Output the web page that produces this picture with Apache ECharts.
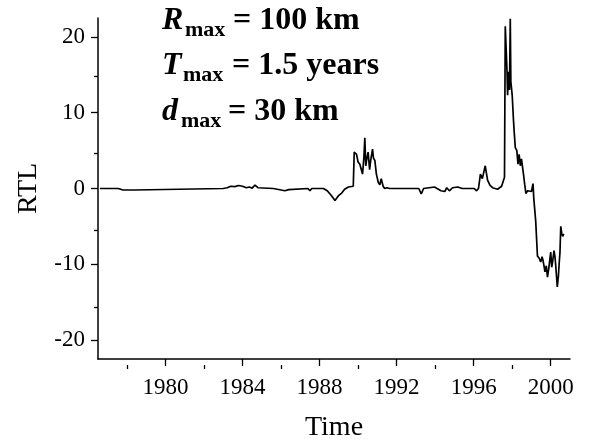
<!DOCTYPE html>
<html>
<head>
<meta charset="utf-8">
<script src="https://cdn.jsdelivr.net/npm/echarts@6/dist/echarts.min.js"></script>
<style>
  html, body { margin: 0; padding: 0; background: #fff; }
  #main { width: 590px; height: 447px; }
</style>
</head>
<body>
<div id="main"></div>
<script>
// time in decimal years, RTL value
const times = [
  1976.6, 1977.55, 1977.6, 1977.8, 1977.9, 1978.1, 1978.2, 1978.4, 1978.45,
  1983.0, 1983.1, 1983.2, 1983.4, 1983.6, 1983.8, 1984.0, 1984.2, 1984.35, 1984.5, 1984.65, 1984.8, 1984.9,
  1985.6, 1985.7, 1986.0, 1986.2, 1986.4, 1986.45,
  1987.4, 1987.5, 1987.6,
  1988.2, 1988.4, 1988.6, 1988.8, 1988.9, 1989.0, 1989.15, 1989.3, 1989.5, 1989.6, 1989.75,
  1989.8, 1989.92, 1990.0, 1990.09, 1990.2, 1990.23, 1990.3, 1990.35, 1990.4, 1990.44, 1990.52,
  1990.6, 1990.65, 1990.75, 1990.8, 1990.87, 1990.95, 1991.05, 1991.13, 1991.2, 1991.3, 1991.38,
  1991.5, 1991.64,
  1993.15, 1993.28, 1993.4, 1993.97, 1994.1, 1994.3, 1994.4, 1994.5, 1994.6, 1994.74, 1994.9,
  1995.17, 1995.4,
  1996.03, 1996.15, 1996.25, 1996.35, 1996.45, 1996.6, 1996.72, 1996.85, 1996.98, 1997.24,
  1997.45, 1997.55, 1997.6, 1997.64, 1997.73, 1997.76, 1997.81, 1997.86, 1997.9, 1997.93,
  1998.0, 1998.06, 1998.1, 1998.16, 1998.24, 1998.3, 1998.36, 1998.42, 1998.48, 1998.58,
  1998.65, 1998.71, 1998.8, 1998.88, 1999.0, 1999.05, 1999.08, 1999.12, 1999.22, 1999.31,
  1999.4, 1999.48, 1999.55, 1999.6, 1999.65, 1999.7, 1999.77, 1999.83, 1999.9, 2000.0,
  2000.05, 2000.1, 2000.17, 2000.22, 2000.26, 2000.34, 2000.4, 2000.43, 2000.48, 2000.52,
  2000.57, 2000.62, 2000.68
];
const rtl = [
  0, 0, -0.25, -0.2, -0.3, -0.2, -0.3, -0.2, 0,
  0, -0.25, 0.1, 0.3, 0.25, 0.4, 0.3, 0.1, 0.2, 0.05, 0.45, 0.1, 0,
  0, -0.25, -0.2, -0.3, -0.15, 0,
  0, -0.3, 0,
  0, -0.3, -0.9, -1.6, -1.5, -0.9, -0.6, -0.1, 0.2, 0.1, 0.3,
  4.8, 4.5, 3.5, 3.2, 2.2, 1.9, 4.0, 6.7, 3.0, 3.7, 4.8,
  2.5, 3.6, 5.2, 4.0, 3.7, 1.9, 0.8, 0.5, 1.3, 0.3, 0,
  0.1, 0,
  0, -0.7, 0, 0.2, 0, -0.3, -0.2, -0.4, 0.1, -0.3, 0.1,
  0.2, 0,
  0, -0.3, 0, 1.9, 1.3, 3.0, 1.1, 0.4, 0.1, -0.1,
  0.3, 0.5, 1.5, 21.4, 15.5, 12.3, 15.4, 13.0, 22.4, 14.1,
  12.3, 9.3, 7.6, 5.4, 5.0, 3.2, 4.5, 3.0, 3.9, 2.0,
  0.5, -0.65, -0.3, -0.5, -0.4, -0.6, 0.65, -1.3, -4.3, -8.9,
  -9.2, -9.7, -9.0, -9.5, -10.2, -11.0, -10.2, -11.7, -10.5, -8.4,
  -10.4, -9.6, -8.2, -9.0, -10.2, -13.0, -11.5, -10.2, -8.4, -5.0,
  -5.9, -6.3, -6.0
];

const xMajor = [1980, 1984, 1988, 1992, 1996, 2000];
const xMinor = [1978, 1982, 1986, 1990, 1994, 1998];
const yMajor = [-20, -10, 0, 10, 20];
const yMinor = [-15, -5, 5, 15];

const serif = '"Liberation Serif", "DejaVu Serif", serif';
const gridRect = { left: 98, right: 20, top: 18, bottom: 82 };

let points = times.map(function (t, i) { return [t, rtl[i]]; });

function minorAxis(vals, dir) {
  return {
    type: 'value',
    gridIndex: 1,
    min: dir === 'x' ? 1976.5 : -22.5,
    max: dir === 'x' ? 2001 : 22.5,
    axisLine: { show: false, onZero: false },
    axisTick: { show: true, inside: false, length: 4, customValues: vals,
      lineStyle: { color: '#000', width: 1.3 } },
    axisLabel: { show: false },
    splitLine: { show: false }
  };
}

let chart = echarts.init(document.getElementById('main'), null, { renderer: 'canvas' });
chart.setOption({
  animation: false,
  backgroundColor: '#fff',
  grid: [gridRect, gridRect],
  xAxis: [{
    type: 'value',
    min: 1976.5,
    max: 2001,
    name: 'Time',
    nameLocation: 'middle',
    nameGap: 55,
    nameTextStyle: { fontFamily: serif, fontSize: 28, color: '#000' },
    axisLine: { onZero: false, lineStyle: { color: '#000', width: 1.5 } },
    axisTick: { inside: false, length: 7, customValues: xMajor,
      lineStyle: { color: '#000', width: 1.3 } },
    axisLabel: { customValues: xMajor, margin: 17, fontFamily: serif, fontSize: 23, color: '#000',
      formatter: function (v) { return String(v); } },
    splitLine: { show: false }
  }, minorAxis(xMinor, 'x')],
  yAxis: [{
    type: 'value',
    min: -22.5,
    max: 22.5,
    name: 'RTL',
    nameLocation: 'middle',
    nameGap: 55,
    nameTextStyle: { fontFamily: serif, fontSize: 28, color: '#000' },
    axisLine: { onZero: false, lineStyle: { color: '#000', width: 1.5 } },
    axisTick: { inside: false, length: 7, customValues: yMajor,
      lineStyle: { color: '#000', width: 1.3 } },
    axisLabel: { customValues: yMajor, margin: 13, fontFamily: serif, fontSize: 23, color: '#000' },
    splitLine: { show: false }
  }, minorAxis(yMinor, 'y')],
  series: [{
    type: 'line',
    xAxisIndex: 0,
    yAxisIndex: 0,
    data: points,
    showSymbol: false,
    symbol: 'none',
    lineStyle: { color: '#000', width: 1.7 }
  }],
  graphic: [
    // R_max = 100 km
    { type: 'text', left: 162, top: 5, style: { text: 'R', font: 'italic bold 32px ' + serif, fill: '#000' } },
    { type: 'text', left: 185, top: 19, style: { text: 'max', font: 'bold 22px ' + serif, fill: '#000' } },
    { type: 'text', left: 233, top: 5, style: { text: '= 100 km', font: 'bold 32px ' + serif, fill: '#000' } },
    // T_max = 1.5 years
    { type: 'text', left: 162, top: 50, style: { text: 'T', font: 'italic bold 32px ' + serif, fill: '#000' } },
    { type: 'text', left: 183, top: 64, style: { text: 'max', font: 'bold 22px ' + serif, fill: '#000' } },
    { type: 'text', left: 232, top: 50, style: { text: '= 1.5 years', font: 'bold 32px ' + serif, fill: '#000' } },
    // d_max = 30 km
    { type: 'text', left: 162, top: 96, style: { text: 'd', font: 'italic bold 32px ' + serif, fill: '#000' } },
    { type: 'text', left: 181, top: 110, style: { text: 'max', font: 'bold 22px ' + serif, fill: '#000' } },
    { type: 'text', left: 228, top: 96, style: { text: '= 30 km', font: 'bold 32px ' + serif, fill: '#000' } }
  ]
});
</script>
</body>
</html>
